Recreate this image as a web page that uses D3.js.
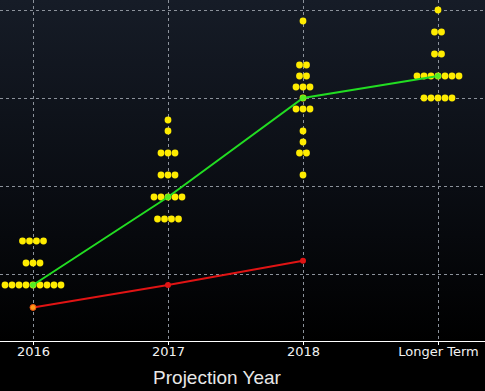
<!DOCTYPE html>
<html>
<head>
<meta charset="utf-8">
<script src="https://cdn.jsdelivr.net/npm/d3@7"></script>
<style>
  html, body { margin: 0; padding: 0; background: #000; }
  svg { display: block; }
</style>
</head>
<body>
<div id="chart"></div>
<script>
// Projection columns
const years = ['2016', '2017', '2018', 'Longer Term'];

// Participants' dots: rate level and number of dots at that level
const dots2016 = [{ rate: 0.875, n: 9 }, { rate: 1.125, n: 3 }, { rate: 1.375, n: 4 }];
const dots2017 = [{ rate: 1.625, n: 4 }, { rate: 1.875, n: 5 }, { rate: 2.125, n: 3 },
                  { rate: 2.375, n: 3 }, { rate: 2.625, n: 1 }, { rate: 2.75, n: 1 }];
const dots2018 = [{ rate: 2.125, n: 1 }, { rate: 2.375, n: 2 }, { rate: 2.5, n: 1 },
                  { rate: 2.625, n: 1 }, { rate: 2.875, n: 3 }, { rate: 3.0, n: 1 },
                  { rate: 3.125, n: 3 }, { rate: 3.25, n: 2 }, { rate: 3.375, n: 2 },
                  { rate: 3.875, n: 1 }];
const dotsLonger = [{ rate: 3.0, n: 5 }, { rate: 3.25, n: 7 }, { rate: 3.5, n: 2 },
                    { rate: 3.75, n: 2 }, { rate: 4.0, n: 1 }];

// Median of the dots and market-implied path
const medians = [0.875, 1.875, 3.0, 3.25];
const market = [0.62, 0.875, 1.15];

const gridValues = [1, 2, 3, 4];

const width = 485, height = 391;
const plotBottom = 341;
const dotStep = 7, dotR = 3.4;

const svg = d3.select('#chart').append('svg')
  .attr('width', width).attr('height', height);

const defs = svg.append('defs');
const grad = defs.append('linearGradient')
  .attr('id', 'bg').attr('x1', 0).attr('x2', 0).attr('y1', 0).attr('y2', 1);
grad.append('stop').attr('offset', '0%').attr('stop-color', '#161c27');
grad.append('stop').attr('offset', '55%').attr('stop-color', '#0a0d13');
grad.append('stop').attr('offset', '100%').attr('stop-color', '#000000');

svg.append('rect').attr('width', width).attr('height', height).attr('fill', '#000');
svg.append('rect').attr('width', width).attr('height', plotBottom).attr('fill', 'url(#bg)');

const x = d3.scalePoint().domain(years).range([33, 438]);
const y = d3.scaleLinear().domain([0, 4]).range([362, 10]);

// dashed grid
svg.append('g').selectAll('line.h')
  .data(gridValues).join('line')
  .attr('x1', 0).attr('x2', width)
  .attr('y1', d => y(d) + 0.5).attr('y2', d => y(d) + 0.5)
  .attr('stroke', '#8c929b').attr('stroke-width', 1)
  .attr('stroke-dasharray', '3,3');

svg.append('g').selectAll('line.v')
  .data(years).join('line')
  .attr('x1', d => x(d) + 0.5).attr('x2', d => x(d) + 0.5)
  .attr('y1', 0).attr('y2', plotBottom)
  .attr('stroke', '#8c929b').attr('stroke-width', 1)
  .attr('stroke-dasharray', '3,3');

// x axis
const xAxis = svg.append('g')
  .attr('transform', `translate(0,${plotBottom})`)
  .call(d3.axisBottom(x).tickSize(4).tickPadding(2));
xAxis.select('.domain').remove();
xAxis.selectAll('.tick line').attr('stroke', '#fff');
xAxis.selectAll('.tick text')
  .attr('fill', '#f2f2f2')
  .style('font-family', '"DejaVu Sans", Verdana, sans-serif')
  .style('font-size', '13px');
svg.append('line')
  .attr('x1', 0).attr('x2', width)
  .attr('y1', plotBottom + 0.5).attr('y2', plotBottom + 0.5)
  .attr('stroke', '#fff').attr('stroke-width', 1);

svg.append('text')
  .attr('x', 217).attr('y', 384)
  .attr('text-anchor', 'middle')
  .attr('fill', '#e8e8e8')
  .style('font-family', '"Liberation Sans", Arial, sans-serif')
  .style('font-size', '19px')
  .text('Projection Year');

// dots
const columns = [dots2016, dots2017, dots2018, dotsLonger];
const dots = [];
columns.forEach((col, i) => {
  col.forEach(r => {
    for (let k = 0; k < r.n; k++) {
      dots.push({ year: years[i], rate: r.rate, off: (k - (r.n - 1) / 2) * dotStep });
    }
  });
});

svg.append('g').selectAll('circle')
  .data(dots).join('circle')
  .attr('cx', d => x(d.year) + d.off)
  .attr('cy', d => y(d.rate))
  .attr('r', dotR)
  .attr('fill', '#ffec00');

// median line
const medianData = years.map((yr, i) => ({ year: yr, rate: medians[i] }));
const line = d3.line().x(d => x(d.year)).y(d => y(d.rate));
svg.append('path')
  .datum(medianData)
  .attr('d', line)
  .attr('fill', 'none')
  .attr('stroke', '#22dd22')
  .attr('stroke-width', 2);
svg.append('g').selectAll('circle')
  .data(medianData).join('circle')
  .attr('cx', d => x(d.year)).attr('cy', d => y(d.rate))
  .attr('r', 3).attr('fill', '#55ee22');

// market line
const marketData = market.map((v, i) => ({ year: years[i], rate: v }));
svg.append('path')
  .datum(marketData)
  .attr('d', line)
  .attr('fill', 'none')
  .attr('stroke', '#e01414')
  .attr('stroke-width', 2);
svg.append('g').selectAll('circle')
  .data(marketData).join('circle')
  .attr('cx', d => x(d.year)).attr('cy', d => y(d.rate))
  .attr('r', 3)
  .attr('fill', (d, i) => i === 0 ? '#ff9a1a' : '#e01414')
  .attr('stroke', (d, i) => i === 0 ? '#e85010' : 'none');
</script>
</body>
</html>
